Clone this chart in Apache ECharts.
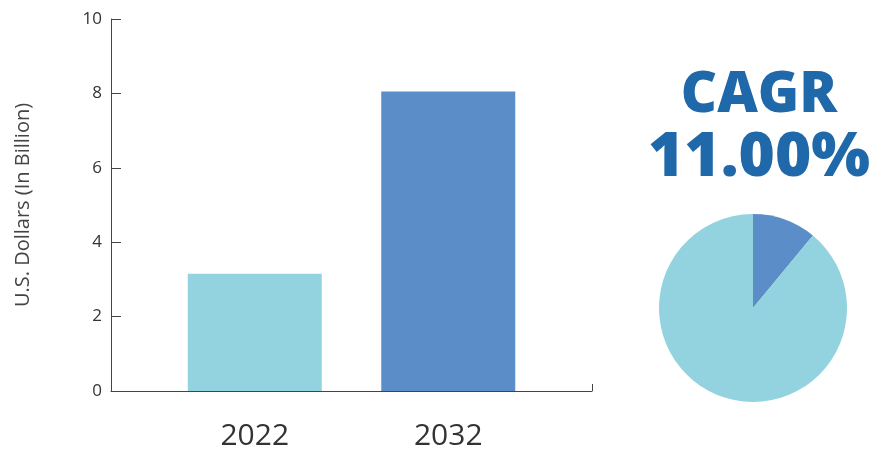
<!DOCTYPE html>
<html><head><meta charset="utf-8">
<script src="https://cdn.jsdelivr.net/npm/echarts@6/dist/echarts.min.js"></script>
<style>html,body{margin:0;padding:0;background:#fff}#c{width:876px;height:460px}</style>
</head><body><div id="c"></div>
<script>
const categories = ['2022', '2032'];
const marketValues = [3.15, 8.05];
const barColors = ['#92d3df', '#5b8dc9'];
const yTicks = [0, 2, 4, 6, 8, 10];
const cagrLabel = 'CAGR';
const cagrValue = '11.00%';
const pieValues = [11, 89];
const pieColors = ['#5b8dc9', '#92d3df'];
const yAxisName = 'U.S. Dollars (In Billion)';

const chart = echarts.init(document.getElementById('c'));
chart.setOption({
  backgroundColor: '#ffffff',
  animation: false,
  title: [
    { text: cagrLabel, left: 754, top: 63, textAlign: 'center',
      textStyle: { fontFamily: 'Open Sans', fontWeight: 800, fontSize: 56, color: '#1f68a9' } },
    { text: cagrValue, left: 754, top: 122, textAlign: 'center',
      textStyle: { fontFamily: 'Open Sans', fontWeight: 800, fontSize: 62, color: '#1f68a9' } }
  ],
  grid: [
    { left: 111, top: 19, width: 481, height: 372 },
    { left: 158, top: 19, width: 387, height: 372 }
  ],
  xAxis: [
    { gridIndex: 0, type: 'value', min: 0, max: 1, interval: 1,
      axisLine: { show: true, lineStyle: { color: '#444', width: 1 } },
      axisTick: { show: true, inside: true, length: 7, lineStyle: { color: '#444' } },
      axisLabel: { show: false }, splitLine: { show: false } },
    { gridIndex: 1, type: 'category', data: categories,
      axisLine: { show: false }, axisTick: { show: false },
      axisLabel: { fontFamily: 'Open Sans', fontSize: 30, color: '#333', margin: 30 } }
  ],
  yAxis: [
    { gridIndex: 0, type: 'value', min: yTicks[0], max: yTicks[yTicks.length - 1], interval: 2,
      name: yAxisName, nameLocation: 'middle', nameGap: 78, nameRotate: 90,
      nameTextStyle: { fontFamily: 'Open Sans', fontSize: 20, color: '#444' },
      axisLine: { show: true, lineStyle: { color: '#444', width: 1 } },
      axisTick: { show: true, inside: true, length: 10, lineStyle: { color: '#444' } },
      axisLabel: { fontFamily: 'Open Sans', fontSize: 17, color: '#333', margin: 9 },
      splitLine: { show: false } },
    { gridIndex: 1, type: 'value', min: yTicks[0], max: yTicks[yTicks.length - 1], interval: 2, show: false }
  ],
  series: [
    { type: 'bar', xAxisIndex: 1, yAxisIndex: 1, barWidth: 134,
      data: marketValues.map((v, i) => ({ value: v, itemStyle: { color: barColors[i] } })) },
    { type: 'pie', center: [753, 308], radius: 94, startAngle: 90, clockwise: true,
      label: { show: false }, labelLine: { show: false }, silent: true,
      itemStyle: { borderWidth: 0 },
      data: pieValues.map((v, i) => ({ value: v, itemStyle: { color: pieColors[i] } })) }
  ]
});
</script></body></html>
